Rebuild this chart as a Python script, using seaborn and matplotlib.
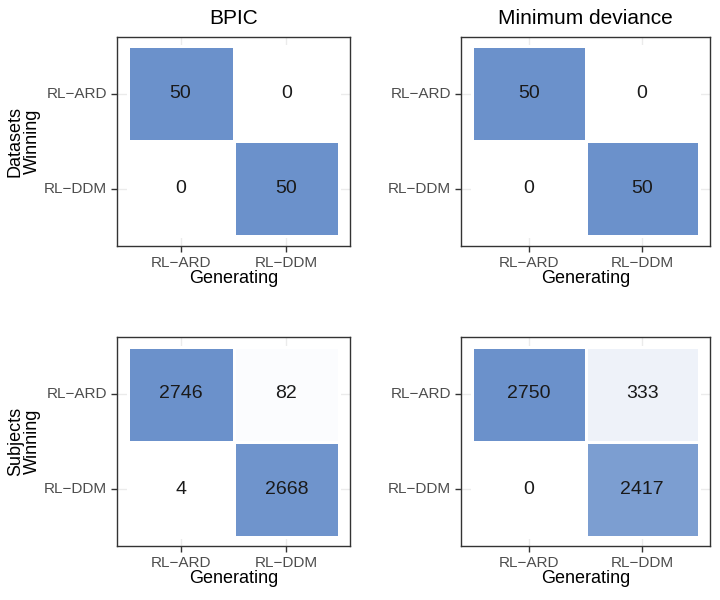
import numpy as np
import pandas as pd
import matplotlib
matplotlib.use("Agg")
import matplotlib.pyplot as plt
import seaborn as sns
from matplotlib.colors import LinearSegmentedColormap

# ---- data ----
models = ["RL−ARD", "RL−DDM"]          # order of Generating (x) and Winning (y)
criteria = ["BPIC", "Minimum deviance"]
levels = ["Datasets", "Subjects"]
# rows = Winning model, columns = Generating model
datasets_bpic = [[50, 0], [0, 50]]
datasets_mindev = [[50, 0], [0, 50]]
subjects_bpic = [[2746, 82], [4, 2668]]
subjects_mindev = [[2750, 333], [0, 2417]]

panels = {
    ("Datasets", "BPIC"): datasets_bpic,
    ("Datasets", "Minimum deviance"): datasets_mindev,
    ("Subjects", "BPIC"): subjects_bpic,
    ("Subjects", "Minimum deviance"): subjects_mindev,
}

sns.set_theme(style="white")
plt.rcParams["font.family"] = ["Liberation Sans", "DejaVu Sans"]

cmap = LinearSegmentedColormap.from_list("wb", ["#FFFFFF", "#6B91CB"])

fig = plt.figure(figsize=(7.2, 6.0), dpi=100)
W, H = 720, 600
rects = {
    (0, 0): (117, 37, 233, 209),
    (0, 1): (461, 37, 249, 209),
    (1, 0): (117, 337, 233, 209),
    (1, 1): (461, 337, 249, 209),
}

for i, lev in enumerate(levels):
    for j, crit in enumerate(criteria):
        x0, y0, w, h = rects[(i, j)]
        ax = fig.add_axes([x0 / W, 1 - (y0 + h) / H, w / W, h / H])
        df = pd.DataFrame(panels[(lev, crit)], index=models, columns=models)
        vmax = df.values.max()
        sns.heatmap(df, ax=ax, cmap=cmap, vmin=0, vmax=vmax, cbar=False,
                    annot=True, fmt="d", linewidths=1.0, linecolor="white",
                    annot_kws={"color": "#1a1a1a", "fontsize": 14})
        ax.set_xlim(-0.1, 2.1)
        ax.set_ylim(2.1, -0.1)
        ax.set_axisbelow(True)
        ax.grid(True, color="#ebebeb", lw=1.0)
        for s in ax.spines.values():
            s.set_visible(True)
            s.set_color("#333333")
            s.set_linewidth(1.0)
        ax.tick_params(axis="both", which="major", length=4, width=1,
                       color="#333333", labelcolor="#4d4d4d", labelsize=11,
                       bottom=True, left=True, pad=3)
        ax.set_xticks([0.5, 1.5])
        ax.set_xticklabels(models, rotation=0)
        ax.set_yticks([0.5, 1.5])
        ax.set_yticklabels(models, rotation=0)
        ax.set_xlabel("Generating", fontsize=13, color="black", labelpad=0)
        if j == 0:
            ax.set_ylabel(f"{lev}\nWinning", fontsize=13, color="black",
                          labelpad=2, linespacing=1.05)
        else:
            ax.set_ylabel("")
        if i == 0:
            ax.set_title(crit, fontsize=15, color="black", pad=9)

fig.savefig("out.png", dpi=100, facecolor="white")
